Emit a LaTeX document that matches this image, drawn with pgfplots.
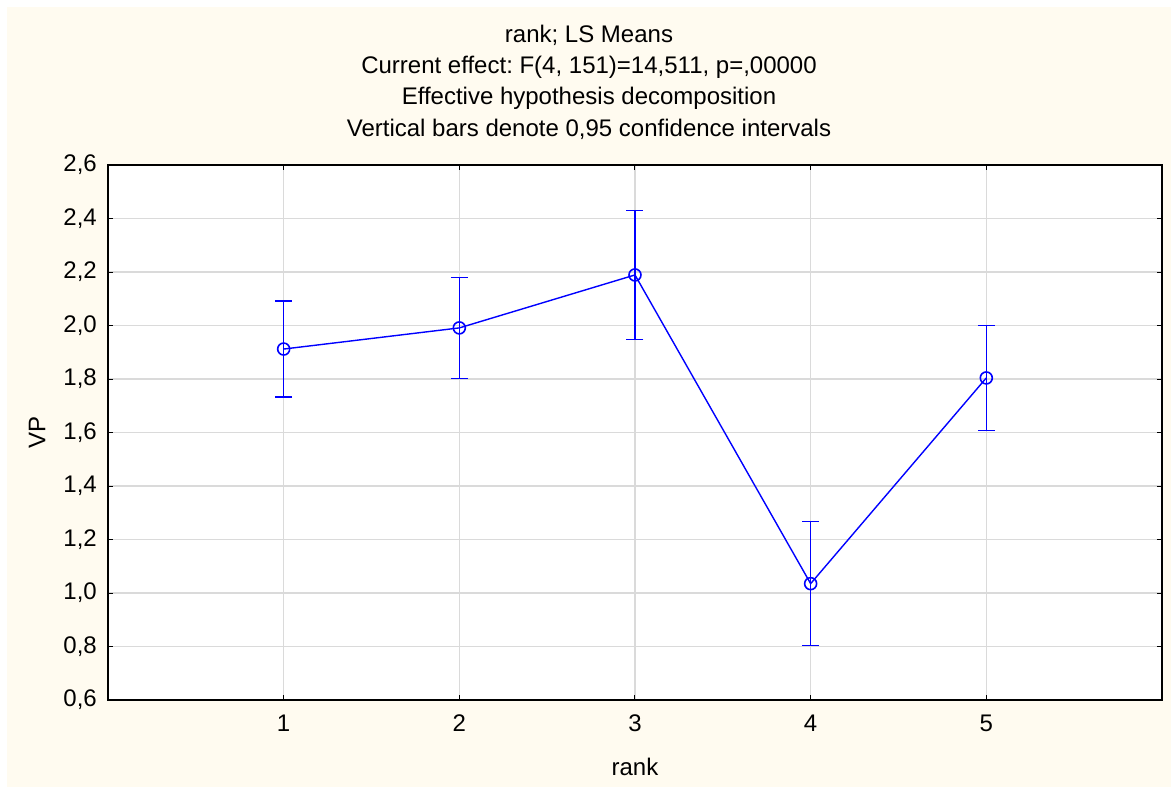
\documentclass[border=0pt]{standalone}
\usepackage{fontspec}
\setmainfont{Liberation Sans}
\usepackage{pgfplots}
\pgfplotsset{compat=1.18}
\definecolor{bgcream}{RGB}{255,251,240}
\definecolor{gridgray}{RGB}{218,218,218}
\begin{document}
\frenchspacing
\fontsize{24bp}{28bp}\selectfont
\begin{tikzpicture}[x=1bp,y=1bp]
    \useasboundingbox (0,0) rectangle (1171,-787);
    \fill[white] (0,0) rectangle (1171,-787);
    \fill[bgcream] (7,-7) rectangle (1171,-787);
    % title lines
    \node[anchor=base] at (589,-43) {rank; LS Means};
    \node[anchor=base] at (589,-74) {Current effect: F(4, 151)=14,511, p=,00000};
    \node[anchor=base] at (589,-105) {Effective hypothesis decomposition};
    \node[anchor=base] at (589,-136) {Vertical bars denote 0,95 confidence intervals};
    \begin{axis}[
            at={(108bp,-700bp)}, anchor=south west,
            width=1054bp, height=535bp, scale only axis,
            xmin=0, xmax=6,
            ymin=0.6, ymax=2.6,
            xtick={1,2,3,4,5},
            ytick={0.6,0.8,1.0,1.2,1.4,1.6,1.8,2.0,2.2,2.4,2.6},
            /pgf/number format/assume math mode=true,
            yticklabel style={
                /pgf/number format/fixed,
                /pgf/number format/fixed zerofill,
                /pgf/number format/precision=1,
                /pgf/number format/use comma,
                xshift=-3bp},
            xticklabel style={yshift=-7bp},
            axis background/.style={fill=white},
            grid=major,
            major grid style={gridgray, line width=1.2bp},
            tick align=inside,
            major tick length=5bp,
            tick style={black, line width=1bp},
            axis line style={black, line width=1.4bp},
        ]
        \addplot[blue, line width=1.4bp, mark=o, mark size=6bp,
            mark options={blue, line width=1.6bp},
            error bars/.cd, y dir=both, y explicit,
            error bar style={draw=blue, line width=1.5bp},
            error mark options={rotate=90, draw=blue, mark size=8.5bp, line width=1.5bp}]
        coordinates {
                (1, 1.912) +- (0, 0.180)
                (2, 1.991) +- (0, 0.189)
                (3, 2.189) +- (0, 0.241)
                (4, 1.035) +- (0, 0.232)
                (5, 1.804) +- (0, 0.196)
            };
    \end{axis}
    \node at (635,-767) {rank};
    \node[rotate=90] at (37,-432) {VP};
\end{tikzpicture}
\end{document}
